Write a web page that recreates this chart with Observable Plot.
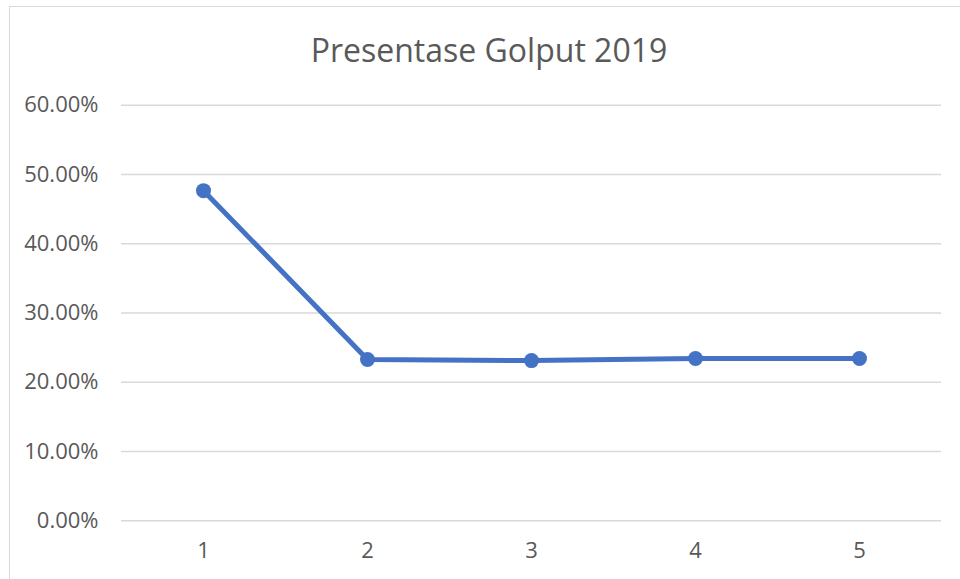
<!DOCTYPE html>
<html>
<head>
<meta charset="utf-8">
<script src="https://cdn.jsdelivr.net/npm/d3@7"></script>
<script src="https://cdn.jsdelivr.net/npm/@observablehq/plot@0.6"></script>
<style>
  html, body { margin: 0; padding: 0; background: #fff; }
  #wrap { position: relative; width: 960px; height: 579px; overflow: hidden; background: #fff; }
  #frame { position: absolute; left: 9px; top: 6px; width: 980px; height: 600px; border: 1.5px solid #d9d9d9; box-sizing: border-box; }
  #title { position: absolute; left: 0; top: 0; width: 978px; height: 80px; display: flex; align-items: center; justify-content: center;
           font-family: "Open Sans", sans-serif; font-size: 32px; color: #595959; padding-top: 18px; box-sizing: border-box; }
  #chart { position: absolute; left: 0; top: 80px; }
</style>
</head>
<body>
<div id="wrap">
  <div id="frame"></div>
  <div id="title">Presentase Golput 2019</div>
  <div id="chart"></div>
</div>
<script>
const categories = ["1", "2", "3", "4", "5"];
const values = [0.4766, 0.2328, 0.2313, 0.2343, 0.2343];
const yTicks = [0, 0.1, 0.2, 0.3, 0.4, 0.5, 0.6];

const data = categories.map((c, i) => ({cat: c, value: values[i]}));
const font = "'Open Sans', sans-serif";

const chart = Plot.plot({
  width: 960,
  height: 499,
  marginTop: 24.7,
  marginBottom: 58.7,
  marginLeft: 121,
  marginRight: 19,
  style: {fontFamily: font, fontSize: "22px", color: "#595959", background: "transparent"},
  x: {type: "point", domain: categories, padding: 0.5, label: null},
  y: {domain: [0, 0.6], label: null},
  marks: [
    Plot.gridY(yTicks, {stroke: "#d9d9d9", strokeOpacity: 1, strokeWidth: 1.5}),
    Plot.axisY(yTicks, {tickSize: 0, tickPadding: 23, tickFormat: d => (d * 100).toFixed(2) + "%", label: null, fill: "#595959", fontSize: 22}),
    Plot.axisX({tickSize: 0, tickPadding: 22, label: null, fill: "#595959", fontSize: 22}),
    Plot.line(data, {x: "cat", y: "value", stroke: "#4472C4", strokeWidth: 5, strokeLinejoin: "round", strokeLinecap: "round"}),
    Plot.dot(data, {x: "cat", y: "value", r: 7.5, fill: "#4472C4", stroke: "none"})
  ]
});
document.getElementById("chart").appendChild(chart);
</script>
</body>
</html>
